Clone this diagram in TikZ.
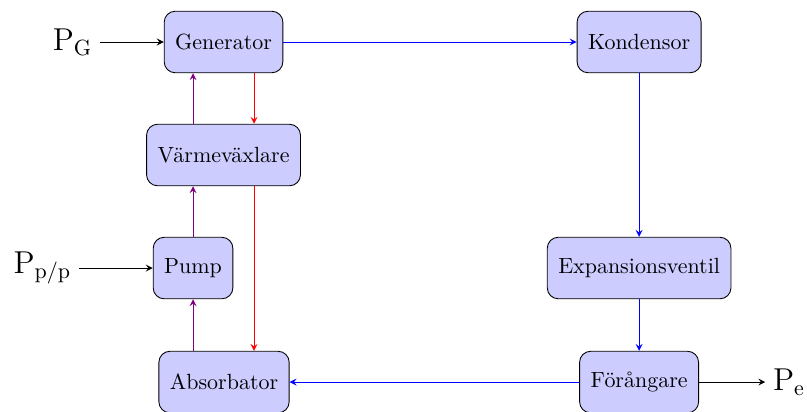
\documentclass[tikz,border=0pt]{standalone}
\usepackage{amsmath}
\usepackage{tikz}
\usetikzlibrary{positioning}

\begin{document}
\begin{tikzpicture}[>=stealth, block/.style={draw, fill=blue!20, rounded corners=5pt, minimum height=28pt, inner xsep=5pt}]
\useasboundingbox (0,0) rectangle (12.91,-6.59);

\node[block] (gen) at (3.576,-0.672) {Generator};
\node[block] (kond) at (10.224,-0.672) {Kondensor};
\node[block] (varme) at (3.576,-2.48) {V\"armev\"axlare};
\node[block] (pump) at (3.088,-4.288) {Pump};
\node[block] (exp) at (10.224,-4.288) {Expansionsventil};
\node[block] (abs) at (3.584,-6.112) {Absorbator};
\node[block] (forang) at (10.224,-6.112) {F\"or\aa ngare};

\node[left=1.02cm of gen] (pg) {\Large $\mathrm{P}_\mathrm{G}$};
\node[left=1.18cm of pump] (ppp) {\Large $\mathrm{P}_\mathrm{p/p}$};
\node[right=1.06cm of forang] (pe) {\Large $\mathrm{P}_\mathrm{e}$};

\draw[->] (pg) -- (gen);
\draw[->] (ppp) -- (pump);
\draw[->] (forang) -- (pe);

\draw[blue,->] (gen) -- (kond);
\draw[blue,->] (kond) -- (exp);
\draw[blue,->] (exp) -- (forang);
\draw[blue,->] (forang) -- (abs);

\draw[violet,->] (pump |- abs.north) -- (pump.south);
\draw[violet,->] (pump.north) -- (pump |- varme.south);
\draw[violet,->] (pump |- varme.north) -- (pump |- gen.south);

\coordinate (hot) at ([xshift=0.488cm]gen.south);
\draw[red,->] (hot) -- (hot |- varme.north);
\draw[red,->] (hot |- varme.south) -- (hot |- abs.north);
\end{tikzpicture}
\end{document}
